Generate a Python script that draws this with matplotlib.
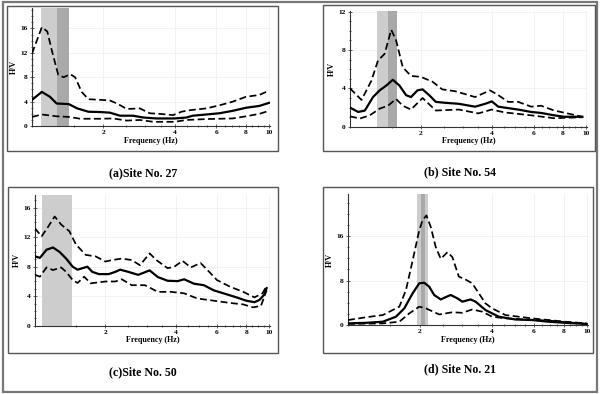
import matplotlib.pyplot as plt
import numpy as np
from matplotlib.patches import Rectangle
from matplotlib.ticker import FixedLocator, MultipleLocator, NullFormatter

# (a) Site No. 27
fa_mean = [1.00, 1.10, 1.19, 1.27, 1.43, 1.55, 1.73, 1.94, 2.13, 2.35, 2.67, 2.95, 3.35, 4.00, 4.48, 4.77, 5.44, 6.18, 7.03, 8.0, 9.1, 10.0]
va_mean = [4.3, 5.6, 4.8, 3.7, 3.6, 2.9, 2.35, 2.3, 2.2, 1.7, 1.7, 1.4, 1.25, 1.25, 1.4, 1.7, 1.9, 2.1, 2.5, 3.0, 3.3, 3.8]
fa_up = [1.00, 1.05, 1.10, 1.16, 1.21, 1.29, 1.36, 1.45, 1.52, 1.62, 1.73, 1.94, 2.13, 2.31, 2.51, 2.85, 3.14, 3.46, 3.94, 4.27, 4.63, 5.44, 6.18, 7.03, 8.0, 9.1, 10.0]
va_up = [11.9, 14.1, 16.2, 15.5, 12.5, 8.4, 8.0, 8.5, 8.0, 5.6, 4.4, 4.3, 4.2, 3.6, 2.8, 2.9, 2.1, 2.0, 1.8, 2.35, 2.6, 2.9, 3.4, 4.0, 4.8, 5.1, 5.8]
fa_lo = [1.00, 1.10, 1.27, 1.43, 1.60, 1.94, 2.20, 2.51, 2.85, 3.25, 4.00, 4.48, 5.44, 7.03, 8.0, 9.1, 10.0]
va_lo = [1.5, 1.9, 1.6, 1.5, 1.2, 1.2, 1.25, 0.9, 1.0, 0.7, 0.7, 1.0, 1.15, 1.25, 1.6, 2.0, 2.5]

# (b) Site No. 54
fb_mean = [1.00, 1.084, 1.156, 1.252, 1.336, 1.425, 1.519, 1.62, 1.728, 1.813, 1.933, 2.03, 2.165, 2.31, 2.54, 2.89, 3.39, 3.74, 3.99, 4.25, 4.53, 5.16, 5.86, 6.45, 7.33, 8.09, 8.91, 9.66]
vb_mean = [2.0, 1.55, 1.7, 3.1, 3.8, 4.3, 4.9, 4.3, 3.3, 3.1, 3.8, 3.9, 3.3, 2.6, 2.5, 2.4, 2.1, 2.4, 2.65, 2.1, 2.0, 1.8, 1.55, 1.45, 1.2, 1.05, 1.05, 1.05]
fb_up = [1.00, 1.119, 1.232, 1.314, 1.402, 1.495, 1.568, 1.673, 1.813, 1.996, 2.236, 2.46, 2.80, 3.39, 3.92, 4.25, 4.68, 5.16, 5.86, 6.45, 7.33, 8.35, 9.66]
vb_up = [4.0, 2.8, 4.8, 6.9, 7.6, 10.1, 9.0, 6.2, 5.3, 5.2, 4.7, 3.9, 3.7, 3.1, 3.8, 3.3, 2.6, 2.6, 2.1, 2.2, 1.7, 1.4, 1.05]
fb_lo = [1.00, 1.10, 1.213, 1.336, 1.448, 1.568, 1.673, 1.813, 2.03, 2.31, 2.89, 3.50, 3.98, 4.53, 5.86, 7.33, 9.66]
vb_lo = [1.1, 0.86, 1.2, 1.9, 2.2, 2.9, 2.2, 1.8, 3.0, 1.7, 1.8, 1.4, 1.8, 1.5, 1.2, 0.9, 1.0]

# (c) Site No. 50
fc_mean = [1.00, 1.05, 1.12, 1.194, 1.274, 1.359, 1.449, 1.521, 1.596, 1.675, 1.758, 1.876, 2.066, 2.203, 2.312, 2.507, 2.76, 3.09, 3.35, 3.69, 4.07, 4.34, 4.78, 5.27, 5.81, 6.39, 7.27, 8.0, 8.67, 9.10, 9.53, 9.77]
vc_mean = [9.4, 9.2, 10.3, 10.6, 10.0, 9.1, 8.0, 7.6, 7.8, 8.0, 7.3, 7.0, 7.0, 7.3, 7.6, 7.3, 6.9, 7.5, 6.6, 6.1, 6.05, 6.3, 5.7, 5.5, 4.8, 4.4, 3.85, 3.4, 3.2, 3.5, 4.2, 5.1]
fc_up = [1.00, 1.067, 1.138, 1.214, 1.294, 1.403, 1.497, 1.648, 1.815, 2.0, 2.133, 2.35, 2.59, 2.81, 3.09, 3.30, 3.69, 3.94, 4.27, 4.63, 5.10, 5.44, 5.99, 6.81, 7.76, 8.67, 9.38, 9.77]
vc_up = [13.2, 12.1, 13.4, 14.8, 13.7, 12.8, 11.0, 9.6, 9.4, 8.7, 8.9, 9.1, 8.9, 8.2, 9.8, 8.9, 7.8, 8.0, 8.8, 7.9, 8.5, 7.6, 6.2, 5.3, 4.6, 3.85, 4.4, 5.4]
fc_lo = [1.00, 1.05, 1.12, 1.194, 1.294, 1.359, 1.449, 1.521, 1.622, 1.730, 2.0, 2.203, 2.35, 2.59, 2.95, 3.35, 3.81, 4.34, 4.94, 5.81, 6.81, 7.76, 8.54, 9.24, 9.77]
vc_lo = [6.9, 6.65, 7.9, 7.55, 7.9, 7.3, 6.2, 5.8, 6.65, 5.75, 6.0, 6.0, 6.3, 5.5, 5.5, 4.6, 4.6, 4.4, 3.7, 3.4, 3.1, 2.9, 2.5, 2.7, 4.8]

# (d) Site No. 21
fd_mean = [1.0, 1.192, 1.399, 1.588, 1.721, 1.865, 1.987, 2.085, 2.187, 2.295, 2.445, 2.56, 2.69, 2.87, 3.01, 3.26, 3.42, 3.76, 4.28, 5.02, 5.89, 6.91, 8.10, 9.97]
vd_mean = [0.3, 0.4, 0.6, 1.5, 3.0, 5.7, 7.5, 7.6, 6.9, 5.4, 4.6, 5.0, 5.4, 4.8, 4.2, 4.6, 4.2, 2.7, 1.5, 1.0, 0.9, 0.6, 0.4, 0.2]
fd_up = [1.0, 1.192, 1.399, 1.641, 1.749, 1.865, 1.987, 2.05, 2.13, 2.222, 2.33, 2.445, 2.61, 2.735, 2.91, 3.10, 3.31, 3.53, 3.76, 4.01, 4.56, 5.18, 5.89, 6.91, 8.10, 9.97]
vd_up = [0.9, 1.4, 1.8, 3.3, 6.3, 11.6, 17.0, 18.8, 19.7, 17.6, 14.0, 11.9, 13.1, 12.2, 8.7, 8.2, 7.5, 5.7, 3.9, 3.0, 1.8, 1.5, 1.2, 0.9, 0.6, 0.3]
fd_lo = [1.0, 1.399, 1.641, 1.806, 1.987, 2.12, 2.41, 2.735, 3.01, 3.31, 3.65, 4.01, 4.56, 5.52, 6.91, 9.97]
vd_lo = [0.2, 0.3, 0.6, 2.1, 3.3, 3.0, 1.9, 2.3, 2.2, 2.8, 2.4, 1.5, 1.2, 1.0, 0.8, 0.2]

# peak frequency bands (light, dark)
band_a = [(1.09, 1.27), (1.27, 1.43)]
band_b = [(1.30, 1.447), (1.447, 1.58)]
band_c = [(1.067, 1.44), None]
band_d = [(1.945, 2.17), (2.02, 2.105)]

captions = ['(a)Site No. 27', '(b) Site No. 54', '(c)Site No. 50', '(d) Site No. 21']

serif = 'Liberation Serif'
fig = plt.figure(figsize=(6.02, 3.94), dpi=100)

# outer frame
fig.patches.append(Rectangle((0.005, 0.005), 0.987, 0.99, transform=fig.transFigure,
                             fill=False, ec='#777777', lw=1.6))


def panel(box, pos, f_m, v_m, f_u, v_u, f_l, v_l, band, ymax, yticks, yminor):
    fig.patches.append(Rectangle(box[:2], box[2], box[3], transform=fig.transFigure,
                                 fill=False, ec='#555555', lw=1.0))
    ax = fig.add_axes(pos)
    ax.set_xscale('log')
    if band[0] is not None:
        ax.axvspan(band[0][0], band[0][1], color='#cdcdcd', lw=0, zorder=1)
    if band[1] is not None:
        ax.axvspan(band[1][0], band[1][1], color='#a9a9a9', lw=0, zorder=1)
    ax.plot(f_u, v_u, color='black', lw=1.25, ls=(0, (4, 2)), zorder=3)
    ax.plot(f_l, v_l, color='black', lw=1.25, ls=(0, (4, 2)), zorder=3)
    ax.plot(f_m, v_m, color='black', lw=1.6, zorder=4)
    ax.set_xlim(1, 10.1)
    ax.set_ylim(0, ymax)
    ax.xaxis.set_major_locator(FixedLocator([2, 4, 6, 8, 10]))
    ax.xaxis.set_minor_locator(FixedLocator(np.arange(1, 10.01, 0.5)))
    ax.xaxis.set_minor_formatter(NullFormatter())
    ax.set_xticklabels(['2', '4', '6', '8', '10'])
    ax.set_yticks(yticks)
    ax.yaxis.set_minor_locator(MultipleLocator(yminor))
    for s in ['top', 'right']:
        ax.spines[s].set_visible(False)
    for s in ['left', 'bottom']:
        ax.spines[s].set_color('#333333')
        ax.spines[s].set_linewidth(0.8)
    ax.tick_params(which='both', direction='inout', color='#444444', width=0.6)
    ax.tick_params(which='major', length=3, labelsize=5.3, pad=1.5)
    ax.tick_params(which='minor', length=2)
    for lab in ax.get_xticklabels() + ax.get_yticklabels():
        lab.set_fontfamily(serif)
        lab.set_fontweight('bold')
    ax.grid(True, which='major', color='#f0f0f0', lw=0.6)
    ax.set_axisbelow(True)
    ax.set_xlabel('Frequency (Hz)', fontsize=5.8, fontweight='bold', family=serif, labelpad=1)
    ax.set_ylabel('H/V', fontsize=5.8, fontweight='bold', family=serif, labelpad=1.5)
    return ax


panel((0.0116, 0.617, 0.450, 0.368), (0.0532, 0.680, 0.3953, 0.299),
      fa_mean, va_mean, fa_up, va_up, fa_lo, va_lo, band_a, 19.3, [0, 4, 8, 12, 16], 1)
panel((0.5365, 0.617, 0.4518, 0.371), (0.5814, 0.678, 0.3937, 0.294),
      fb_mean, vb_mean, fb_up, vb_up, fb_lo, vb_lo, band_b, 12.05, [0, 4, 8, 12], 1)
panel((0.0133, 0.104, 0.4485, 0.421), (0.0581, 0.173, 0.3904, 0.332),
      fc_mean, vc_mean, fc_up, vc_up, fc_lo, vc_lo, band_c, 17.7, [0, 4, 8, 12, 16], 1)
panel((0.5365, 0.104, 0.4485, 0.421), (0.578, 0.175, 0.3987, 0.332),
      fd_mean, vd_mean, fd_up, vd_up, fd_lo, vd_lo, band_d, 23.5, [0, 8, 16], 2)

cap_pos = [(0.2375, 0.561), (0.764, 0.563), (0.2375, 0.056), (0.764, 0.063)]
for (x, y), txt in zip(cap_pos, captions):
    fig.text(x, y, txt, ha='center', va='center', fontsize=8.6, fontweight='bold', family=serif)

fig.savefig('out.png', dpi=100)
